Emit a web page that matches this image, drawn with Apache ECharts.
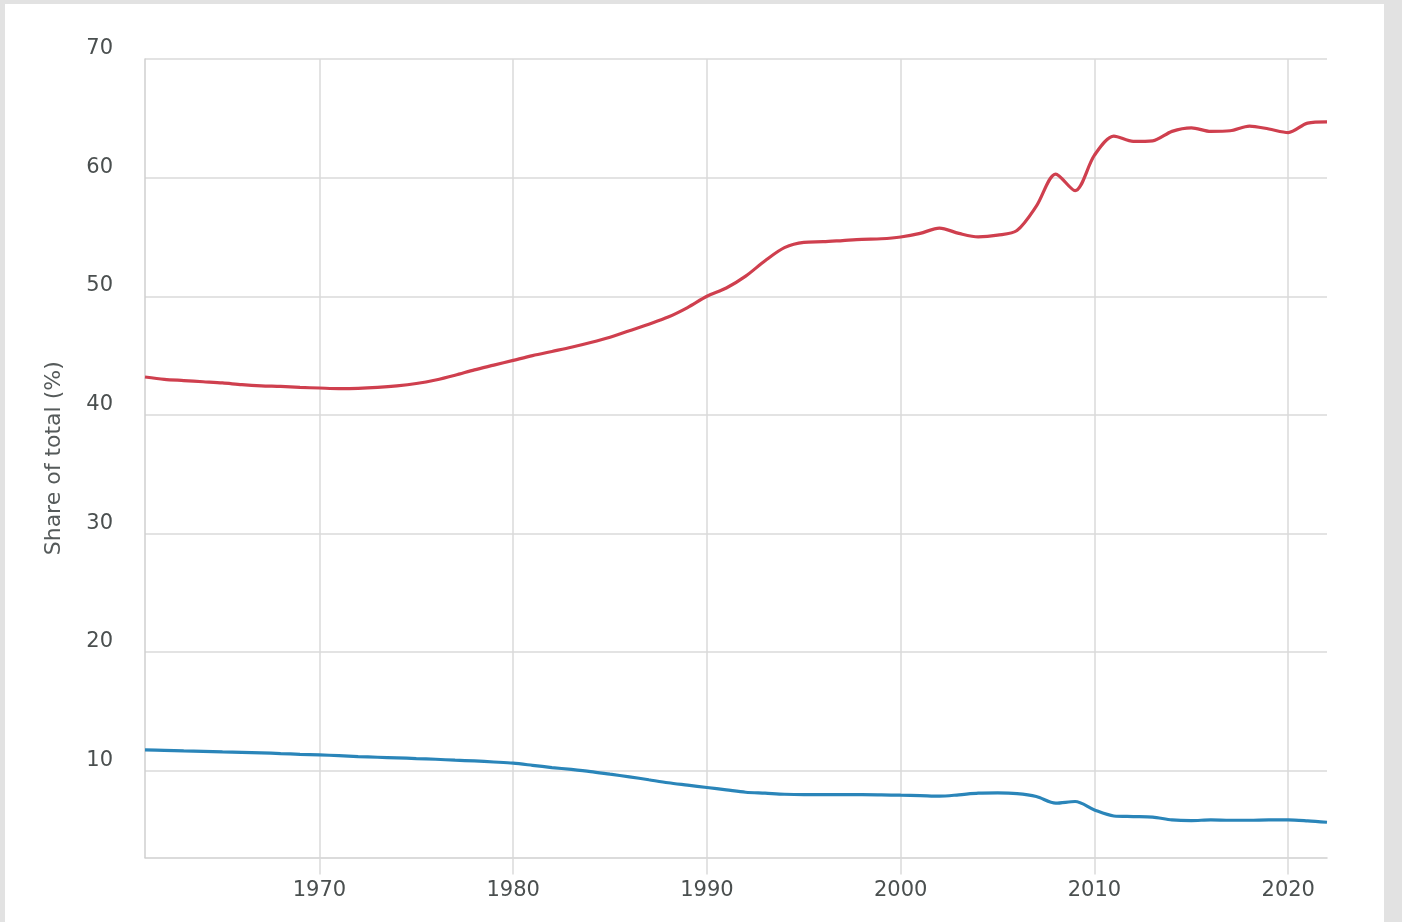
<!DOCTYPE html>
<html>
<head>
<meta charset="utf-8">
<script src="https://cdn.jsdelivr.net/npm/echarts@6/dist/echarts.min.js"></script>
<style>
  html, body { margin: 0; padding: 0; background: #e2e2e2; }
  #panel { position: absolute; left: 5px; top: 4px; width: 1379px; height: 918px; background: #fff; }
  #chart { position: absolute; left: 0; top: 0; width: 1402px; height: 922px; }
</style>
</head>
<body>
<div id="panel"></div>
<div id="chart"></div>
<script>
// years on the x axis
const years = [];
for (let y = 1961; y <= 2022; y++) years.push(y);

// red line (share of total, %)
const redValues = [
  43.2, 43.0, 42.9, 42.8, 42.7, 42.55, 42.45, 42.4, 42.32, 42.27,
  42.22, 42.24, 42.32, 42.45, 42.65, 42.95, 43.35, 43.8, 44.2, 44.6,
  45.0, 45.35, 45.7, 46.1, 46.55, 47.1, 47.65, 48.25, 49.05, 50.0,
  50.7, 51.7, 53.0, 54.1, 54.55, 54.6, 54.7, 54.8, 54.85, 55.0,
  55.3, 55.75, 55.3, 55.0, 55.15, 55.55, 57.6, 60.3, 58.9, 61.9,
  63.5, 63.05, 63.1, 63.9, 64.2, 63.9, 63.95, 64.35, 64.1, 63.8,
  64.6, 64.7
];

// blue line
const blueValues = [
  11.77, 11.73, 11.69, 11.65, 11.6, 11.56, 11.52, 11.46, 11.4, 11.35,
  11.28, 11.2, 11.15, 11.1, 11.04, 10.98, 10.9, 10.84, 10.75, 10.65,
  10.47, 10.28, 10.12, 9.94, 9.72, 9.5, 9.25, 9.0, 8.8, 8.6,
  8.4, 8.2, 8.12, 8.03, 8.0, 8.0, 8.0, 8.0, 7.98, 7.95,
  7.92, 7.87, 7.98, 8.12, 8.15, 8.09, 7.84, 7.28, 7.42, 6.71,
  6.2, 6.15, 6.1, 5.87, 5.81, 5.87, 5.84, 5.84, 5.87, 5.87,
  5.79, 5.67
];

const xTicks = [1970, 1980, 1990, 2000, 2010, 2020];
const yTicks = [10, 20, 30, 40, 50, 60, 70];

const chart = echarts.init(document.getElementById("chart"));
const font = "DejaVu Sans";
const gridColor = "#dadada";
const labelColor = "#4a4f4f";

chart.setOption({
  animation: false,
  textStyle: { fontFamily: font },
  grid: { left: 145, top: 59, right: 75, bottom: 64.5 },
  xAxis: {
    type: "value",
    min: 1961,
    max: 2022,
    axisLine: { show: true, lineStyle: { color: "#cfcfcf", width: 1.5 } },
    axisTick: { show: true, length: 17, customValues: xTicks, lineStyle: { color: gridColor, width: 1.5 } },
    axisLabel: {
      customValues: xTicks,
      formatter: (v) => String(v),
      margin: 23,
      fontSize: 21,
      color: labelColor,
      fontFamily: font
    },
    splitLine: { show: true, lineStyle: { color: gridColor, width: 1.5 } }
  },
  yAxis: {
    type: "value",
    min: 2.7,
    max: 70,
    name: "Share of total (%)",
    nameLocation: "middle",
    nameGap: 80,
    nameTextStyle: { fontSize: 22, color: "#555a5a", fontFamily: font },
    axisLine: { show: true, lineStyle: { color: "#cfcfcf", width: 1.5 } },
    axisTick: { show: false, customValues: yTicks },
    axisLabel: {
      customValues: yTicks,
      margin: 32,
      fontSize: 21,
      color: labelColor,
      fontFamily: font,
      verticalAlign: "bottom",
      padding: [0, 0, 0, 0]
    },
    splitLine: { show: true, lineStyle: { color: gridColor, width: 1.5 } }
  },
  series: [
    {
      name: "red",
      type: "line",
      smooth: 0.3,
      showSymbol: false,
      data: years.map((y, i) => [y, redValues[i]]),
      lineStyle: { color: "#cf3f4e", width: 3.2 },
      itemStyle: { color: "#cf3f4e" }
    },
    {
      name: "blue",
      type: "line",
      smooth: 0.3,
      showSymbol: false,
      data: years.map((y, i) => [y, blueValues[i]]),
      lineStyle: { color: "#2a85b9", width: 3.2 },
      itemStyle: { color: "#2a85b9" }
    }
  ]
});
</script>
</body>
</html>
